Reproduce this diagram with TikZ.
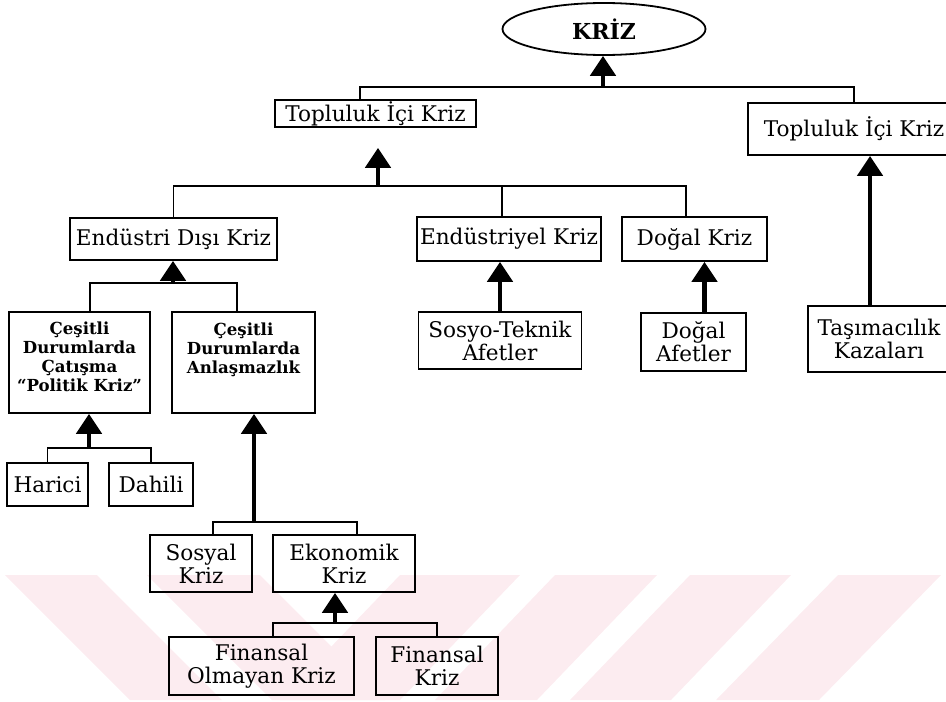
\documentclass[tikz,border=0pt]{standalone}
\usepackage{fontspec}
\setmainfont{DejaVu Serif}
\usetikzlibrary{arrows.meta,shapes.geometric}
\definecolor{wmpink}{RGB}{252,236,240}
\tikzset{
  >={Triangle[width=12.5pt,length=10pt]},
  box/.style={draw, line width=0.9pt, rectangle, inner sep=0pt, align=center,
    font=\fontsize{10.8}{11.5}\selectfont},
  smallbox/.style={box, font=\bfseries\fontsize{8.3}{9.5}\selectfont},
  link/.style={line width=0.75pt},
  up/.style={->, line width=2.4pt},
}

\begin{document}
\begin{tikzpicture}[x=0.5pt, y=-0.5pt]
    \useasboundingbox (0,0) rectangle (946,701);
    \clip (0,0) rectangle (946,701);
    % Filigran
    \fill[wmpink] (5,575) -- (97,575) -- (222,700) -- (130,700) -- cycle;
    \fill[wmpink] (147,575) -- (260,575) -- (385,700) -- (272,700) -- cycle;
    \fill[wmpink] (400,575) -- (520,575) -- (400,700) -- (280,700) -- cycle;
    \fill[wmpink] (555,575) -- (657,575) -- (537,700) -- (435,700) -- cycle;
    \fill[wmpink] (690,575) -- (791,575) -- (671,700) -- (570,700) -- cycle;
    \fill[wmpink] (838,575) -- (941,575) -- (819,700) -- (716,700) -- cycle;
    % Kutular
    \node[ellipse, draw, line width=0.9pt, minimum width=101.5pt, minimum height=26pt,
      font=\bfseries\fontsize{11}{13}\selectfont] (kriz) at (604,29) {KRİZ};
    \node[box, minimum width=100.5pt, minimum height=13.5pt] (tl) at (375.5,113.5) {Topluluk İçi Kriz};
    \node[box, minimum width=106pt, minimum height=26pt]     (tr) at (854,129)     {Topluluk İçi Kriz};
    \node[box, minimum width=103.5pt, minimum height=21pt]   (ed) at (173.5,239)   {Endüstri Dışı Kriz};
    \node[box, minimum width=92pt, minimum height=22pt]      (ek) at (509,239)     {Endüstriyel Kriz};
    \node[box, minimum width=72.5pt, minimum height=22pt]    (dk) at (694.5,239)   {Doğal Kriz};
    \node[smallbox, minimum width=70.5pt, minimum height=50.5pt] (pk) at (79.5,362.5)
      {Çeşitli\\Durumlarda\\Çatışma\\“Politik Kriz”\\[-4pt]\mbox{}};
    \node[smallbox, minimum width=71.5pt, minimum height=50.5pt] (an) at (243.5,362.5)
      {Çeşitli\\Durumlarda\\Anlaşmazlık\\[4.5pt]\mbox{}};
    \node[box, minimum width=81.5pt, minimum height=28.5pt]  (st) at (500,340.5)   {Sosyo-Teknik\\Afetler};
    \node[box, minimum width=52.5pt, minimum height=29pt]    (da) at (693.5,342)   {Doğal\\Afetler};
    \node[box, minimum width=71pt, minimum height=33pt]      (tk) at (879,339)     {Taşımacılık\\Kazaları};
    \node[box, minimum width=40.5pt, minimum height=21.5pt]  (ha) at (47.5,484.5)  {Harici};
    \node[box, minimum width=42pt, minimum height=21.5pt]    (dh) at (151,484.5)   {Dahili};
    \node[box, minimum width=51pt, minimum height=28.5pt]    (sk) at (201,563.5)   {Sosyal\\Kriz};
    \node[box, minimum width=71pt, minimum height=28.5pt]    (ekk) at (344,563.5)  {Ekonomik\\Kriz};
    \node[box, minimum width=92.5pt, minimum height=29pt]    (fo) at (261.5,666)   {Finansal\\Olmayan Kriz};
    \node[box, minimum width=61pt, minimum height=29pt]      (fk) at (437,666)     {Finansal\\Kriz};
    % Baglantilar
    \coordinate (j0) at (603,87);
    \draw[link] ([xshift=-7.75pt]tl.north) |- (j0) -| (tr.north);
    \draw[up] (j0) -- (j0 |- kriz.south);
    \coordinate (j1) at (378,186);
    \draw[link] (ed.north) |- (j1) -| ([xshift=-4.25pt]dk.north);
    \draw[link] ([xshift=-3.5pt]ek.north) |- (j1);
    \draw[up, shorten >=10pt] (j1) -- (j1 |- tl.south);
    \coordinate (j2) at (173,283);
    \draw[link] ([xshift=5.25pt]pk.north) |- (j2) -| ([xshift=-3.25pt]an.north);
    \draw[up] (j2) -- (j2 |- ed.south);
    \coordinate (j3) at (89,448);
    \draw[link] (ha.north) |- (j3) -| (dh.north);
    \draw[up] (j3) -- (j3 |- pk.south);
    \coordinate (j4) at (254,522);
    \draw[link] ([xshift=6pt]sk.north) |- (j4) -| ([xshift=6.5pt]ekk.north);
    \draw[up] (j4) -- (j4 |- an.south);
    \coordinate (j5) at (335,623);
    \draw[link] ([xshift=5.75pt]fo.north) |- (j5) -| (fk.north);
    \draw[up] (j5) -- (j5 |- ekk.south);
    % Dogrudan oklar
    \draw[up] (st.north) -- (st.north |- ek.south);
    \path ([xshift=5.5pt]da.north) coordinate (da-top);
    \draw[up] (da-top) -- (da-top |- dk.south);
    \path ([xshift=-4.5pt]tk.north) coordinate (tk-top);
    \draw[up] (tk-top) -- (tk-top |- tr.south);
\end{tikzpicture}
\end{document}
